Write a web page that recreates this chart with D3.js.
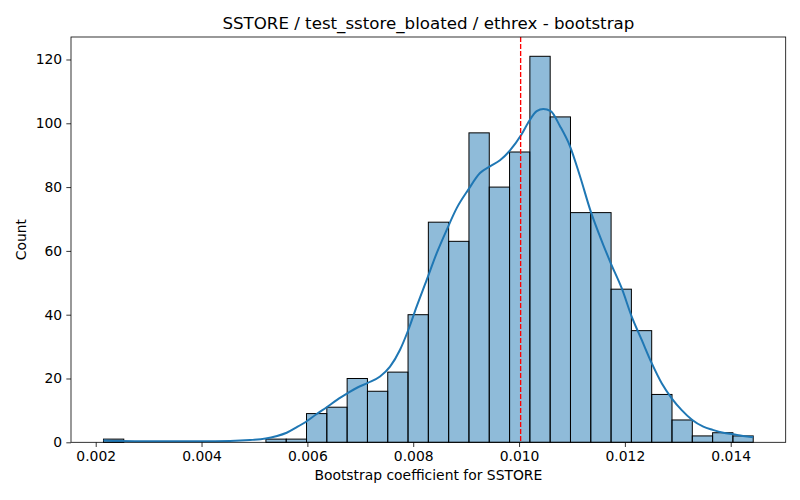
<!DOCTYPE html>
<html>
<head>
<meta charset="utf-8">
<script src="https://cdn.jsdelivr.net/npm/d3@7"></script>
<style>
  html, body { margin: 0; padding: 0; background: #fff; }
  svg { display: block; font-family: "DejaVu Sans", sans-serif; }
</style>
</head>
<body>
<svg id="chart" width="800" height="500"></svg>
<script>
// ---- data ----
const title = "SSTORE / test_sstore_bloated / ethrex - bootstrap";
const xLabel = "Bootstrap coefficient for SSTORE";
const yLabel = "Count";

// histogram bins: uniform width, first left edge
const binStart = 0.002147;
const binWidth = 0.00038369;
const counts = [1, 0, 0, 0, 0, 0, 0, 0, 1, 1, 9, 11, 20, 16, 22, 40, 69, 63, 97, 80, 91, 121, 102, 72, 72, 48, 35, 15, 7, 2, 3, 2];

// KDE curve (x value, count-scaled density)
const kdeX = [0.002147, 0.002459, 0.003026, 0.003971, 0.004538, 0.004916, 0.005213, 0.005407, 0.005609, 0.005785,
              0.005987, 0.006163, 0.006365, 0.006560, 0.006762, 0.006938, 0.007140, 0.007373, 0.007562, 0.007751,
              0.007907, 0.008066, 0.008255, 0.008444, 0.008633, 0.008822, 0.009041, 0.009262, 0.009451, 0.009640,
              0.009829, 0.010043, 0.010194, 0.010334, 0.010459, 0.010598, 0.010774, 0.010963, 0.011152, 0.011354,
              0.011530, 0.011732, 0.011940, 0.012129, 0.012318, 0.012507, 0.012696, 0.012885, 0.013074, 0.013274,
              0.013482, 0.013660, 0.013860, 0.014049, 0.014232, 0.014425];
const kdeY = [0.6, 0.4, 0.3, 0.3, 0.4, 0.7, 1.2, 1.9, 3.0, 4.6,
              6.6, 8.7, 11.0, 13.3, 15.4, 17.1, 18.6, 20.6, 23.7, 29.0,
              35.2, 42.6, 50.9, 59.3, 66.6, 73.4, 79.2, 84.4, 86.5, 88.4,
              91.5, 96.4, 100.8, 103.8, 104.5, 103.8, 99.1, 92.8, 83.4, 72.4,
              64.5, 56.2, 48.3, 39.4, 32.1, 24.8, 18.5, 13.8, 10.1, 7.0,
              4.9, 3.9, 3.0, 2.5, 2.0, 1.6];

const meanValue = 0.01003;

const xTicks = [0.002, 0.004, 0.006, 0.008, 0.010, 0.012, 0.014];
const yTicks = [0, 20, 40, 60, 80, 100, 120];

// ---- layout ----
const W = 800, H = 500;
const margin = { left: 71, right: 14.3, top: 37, bottom: 57.7 };
const iw = W - margin.left - margin.right;
const ih = H - margin.top - margin.bottom;

const bins = counts.map((c, i) => ({ x0: binStart + i * binWidth, x1: binStart + (i + 1) * binWidth, n: c }));
const dataMin = bins[0].x0, dataMax = bins[bins.length - 1].x1;
const pad = (dataMax - dataMin) * 0.05;

const x = d3.scaleLinear().domain([dataMin - pad, dataMax + pad]).range([0, iw]);
const y = d3.scaleLinear().domain([0, d3.max(counts) * 1.05]).range([ih, 0]);

const svg = d3.select("#chart");
svg.append("rect").attr("width", W).attr("height", H).attr("fill", "#fff");
const g = svg.append("g").attr("transform", `translate(${margin.left},${margin.top})`);

// bars
g.append("g").selectAll("rect").data(bins).join("rect")
  .attr("x", d => x(d.x0))
  .attr("width", d => x(d.x1) - x(d.x0))
  .attr("y", d => y(d.n))
  .attr("height", d => y(0) - y(d.n))
  .attr("fill", "rgba(31,119,180,0.5)")
  .attr("stroke", "#000")
  .attr("stroke-width", 1);

// KDE line
const kde = kdeX.map((v, i) => [v, kdeY[i]]);
g.append("path").datum(kde)
  .attr("fill", "none")
  .attr("stroke", "#1f77b4")
  .attr("stroke-width", 2)
  .attr("stroke-linejoin", "round")
  .attr("d", d3.line().x(d => x(d[0])).y(d => y(d[1])).curve(d3.curveMonotoneX));

// mean line
g.append("line")
  .attr("x1", x(meanValue)).attr("x2", x(meanValue))
  .attr("y1", 0).attr("y2", ih)
  .attr("stroke", "red")
  .attr("stroke-width", 1.33)
  .attr("stroke-dasharray", "4.9,2.1");

// axes
const fs = 13.9;
const xAxis = d3.axisBottom(x).tickValues(xTicks).tickFormat(d3.format(".3f")).tickSize(4.67).tickPadding(4.2);
const yAxis = d3.axisLeft(y).tickValues(yTicks).tickFormat(d3.format("d")).tickSize(4.67).tickPadding(4.2);

const gx = g.append("g").attr("transform", `translate(0,${ih})`).call(xAxis);
const gy = g.append("g").call(yAxis);
[gx, gy].forEach(a => {
  a.select(".domain").remove();
  a.selectAll(".tick line").attr("stroke", "#000").attr("stroke-width", 0.8);
  a.selectAll(".tick text").attr("fill", "#000").style("font-size", fs + "px").style("font-family", "DejaVu Sans");
});

// frame
g.append("rect").attr("x", 0).attr("y", 0).attr("width", iw).attr("height", ih)
  .attr("fill", "none").attr("stroke", "#000").attr("stroke-width", 0.8);

// labels
svg.append("text")
  .attr("x", margin.left + iw / 2).attr("y", 28.5)
  .attr("text-anchor", "middle")
  .style("font-size", "16.67px")
  .attr("fill", "#000")
  .text(title);

svg.append("text")
  .attr("x", margin.left + iw / 2).attr("y", 480)
  .attr("text-anchor", "middle")
  .style("font-size", fs + "px")
  .attr("fill", "#000")
  .text(xLabel);

svg.append("text")
  .attr("transform", `translate(26,${margin.top + ih / 2}) rotate(-90)`)
  .attr("text-anchor", "middle")
  .style("font-size", fs + "px")
  .attr("fill", "#000")
  .text(yLabel);
</script>
</body>
</html>
